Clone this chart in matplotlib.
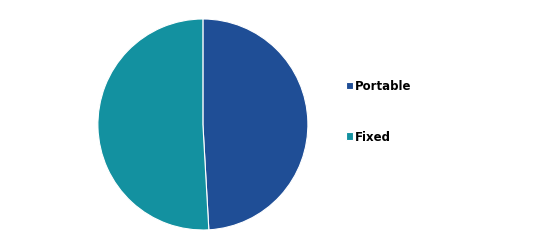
import matplotlib.pyplot as plt

labels = ['Portable', 'Fixed']
shares = [49.1, 50.9]
colors = ['#1F4E96', '#1391A0']


def main():
    fig = plt.figure(figsize=(5.35, 2.53), dpi=100)
    ax = fig.add_axes([0.183, 0.087, 0.3925, 0.834])
    wedges, _ = ax.pie(shares, colors=colors, startangle=90, counterclock=False,
                       wedgeprops={'edgecolor': 'white', 'linewidth': 0.8})
    ax.set_aspect('auto')
    ax.set_xlim(-1, 1)
    ax.set_ylim(-1, 1)

    fig.legend(wedges, labels, loc='upper left', bbox_to_anchor=(0.626, 0.724),
               frameon=False, handlelength=0.6, handleheight=0.6,
               handletextpad=0.2, labelspacing=3.2,
               prop={'weight': 'bold', 'size': 8.5})
    fig.savefig('out.png', dpi=100)


if __name__ == '__main__':
    main()
